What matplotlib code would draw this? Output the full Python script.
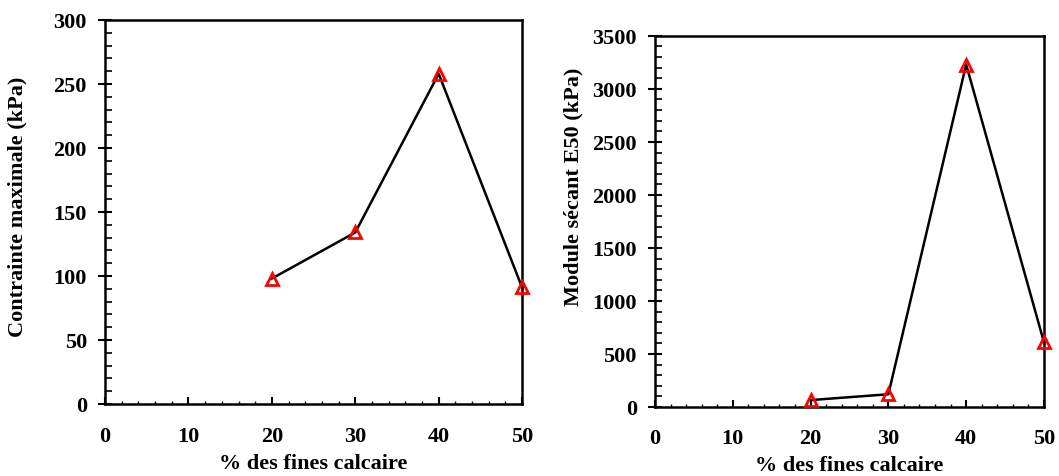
import matplotlib.pyplot as plt
from matplotlib.ticker import MultipleLocator

fines = [20, 30, 40, 50]
contrainte = [98, 134, 258, 91]
module_e50 = [65, 120, 3230, 610]

plt.rcParams['font.family'] = ['Liberation Serif', 'DejaVu Serif']
plt.rcParams['font.weight'] = 'bold'
plt.rcParams['axes.labelweight'] = 'bold'

fig = plt.figure(figsize=(10.59, 4.77), dpi=100)
ax1 = fig.add_axes([0.0992, 0.151, 0.3938, 0.805])
ax2 = fig.add_axes([0.6185, 0.1447, 0.3673, 0.778])


def style(ax, ymax, ystep, xpad):
    ax.set_xlim(0, 50)
    ax.set_ylim(0, ymax)
    ax.xaxis.set_major_locator(MultipleLocator(10))
    ax.xaxis.set_minor_locator(MultipleLocator(2))
    ax.yaxis.set_major_locator(MultipleLocator(ystep))
    ax.yaxis.set_minor_locator(MultipleLocator(ystep / 5))
    ax.tick_params(axis='x', which='major', direction='in', length=5, width=1.5,
                   labelsize=16, pad=xpad)
    ax.tick_params(axis='x', which='minor', direction='in', length=2, width=1)
    ax.tick_params(axis='y', which='major', direction='inout', length=10, width=1.5,
                   labelsize=16, pad=8)
    ax.tick_params(axis='y', which='minor', direction='in', length=5, width=1.2)
    for sp in ax.spines.values():
        sp.set_linewidth(1.8)
    for lab in ax.get_xticklabels() + ax.get_yticklabels():
        lab.set_fontweight('bold')


ax1.plot(fines, contrainte, color='black', lw=1.8, marker='^', ms=9,
         mfc='none', mec='red', mew=2, clip_on=False, zorder=3)
style(ax1, 300, 50, 16)
ax1.set_xlabel('% des fines calcaire', fontsize=16, labelpad=5)
ax1.set_ylabel('Contrainte maximale (kPa)', fontsize=16)
ax1.yaxis.set_label_coords(-0.185, 0.516)

ax2.plot(fines, module_e50, color='black', lw=1.8, marker='^', ms=9,
         mfc='none', mec='red', mew=2, clip_on=False, zorder=3)
style(ax2, 3500, 500, 15)
ax2.set_xlabel('% des fines calcaire', fontsize=16, labelpad=5)
ax2.set_ylabel('Module sécant E50 (kPa)', fontsize=16)
ax2.yaxis.set_label_coords(-0.185, 0.596)

fig.savefig('out.png', dpi=100)
